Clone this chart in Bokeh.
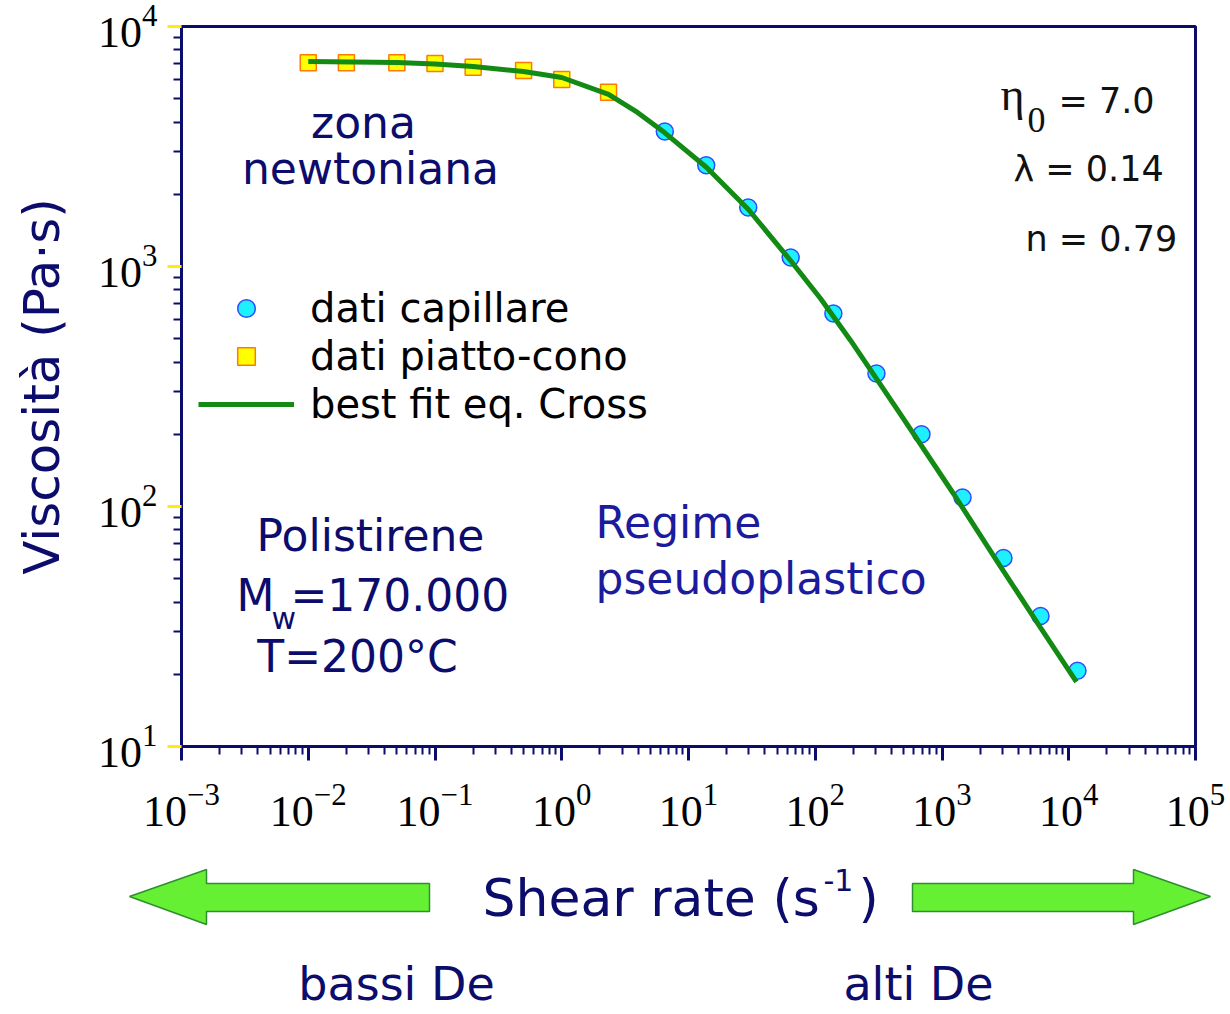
from bokeh.plotting import figure
from bokeh.layouts import column
from bokeh.models import (Range1d, FixedTicker, Label, Legend, LegendItem,
                          ColumnDataSource)
from bokeh.embed import file_html
from bokeh.resources import INLINE

# ---------------- data ----------------
shear_capillare = [6.5, 13.8, 29.6, 64, 139, 304, 689, 1452, 3055, 5990, 11720]
visc_capillare = [3650, 2640, 1760, 1090, 637, 358, 200, 109, 61, 35, 20.7]

shear_piatto = [0.01, 0.02, 0.05, 0.1, 0.2, 0.5, 1.0, 2.34]
visc_piatto = [7060, 7060, 7060, 7010, 6760, 6560, 6010, 5320]

shear_fit = [0.01, 0.05, 0.1, 0.2, 0.5, 1, 2.34, 3.96, 6.47, 13.9, 29.7, 63.8,
             110, 190, 471, 1233, 2897, 5985, 11500]
visc_fit = [7140, 7080, 6980, 6810, 6490, 6130, 5210, 4385, 3615, 2585, 1728,
            1059, 736, 492, 242, 113, 56.2, 31.3, 18.6]

x_major = [1e-3, 1e-2, 1e-1, 1e0, 1e1, 1e2, 1e3, 1e4, 1e5]
y_major = [1e1, 1e2, 1e3, 1e4]

legend_labels = ["dati capillare", "dati piatto-cono", "best fit eq. Cross"]

# ---------------- geometry helpers ----------------
W, H = 1230, 1014
H1 = 850                      # height of the chart figure
FL, FR, FT, FB = 181, 1195, 26, 746
XLO, XHI, YLO, YHI = -3, 5, 1, 4
BASE_SHIFT = 0.34             # baseline correction (fraction of font size)


def dx(px):
    return 10 ** (XLO + (px - FL) / (FR - FL) * (XHI - XLO))


def dy(py):
    return 10 ** (YHI - (py - FT) / (FB - FT) * (YHI - YLO))


NAVY = "#0c0c6c"
SANS = "DejaVu Sans"

p = figure(width=W, height=H1, x_axis_type="log", y_axis_type="log",
           x_range=Range1d(1e-3, 1e5), y_range=Range1d(10, 1e4),
           output_backend="svg", toolbar_location=None,
           min_border_left=FL, min_border_right=W - FR,
           min_border_top=FT, min_border_bottom=H1 - FB,
           background_fill_color="white", border_fill_color="white")
p.grid.visible = False
p.outline_line_color = NAVY
p.outline_line_width = 3

x_minor = [m * 10 ** k for k in range(-3, 5) for m in range(2, 10)]
y_minor = [m * 10 ** k for k in range(1, 4) for m in range(2, 10)]
p.xaxis.ticker = FixedTicker(ticks=x_major, minor_ticks=x_minor)
p.yaxis.ticker = FixedTicker(ticks=y_major, minor_ticks=y_minor)

for ax in (p.xaxis[0], p.yaxis[0]):
    ax.axis_line_color = NAVY
    ax.axis_line_width = 3
    ax.major_tick_in = 0
    ax.minor_tick_in = 0
    ax.major_tick_out = 14
    ax.minor_tick_out = 8
    ax.major_tick_line_width = 3
    ax.minor_tick_line_width = 2
    ax.minor_tick_line_color = NAVY
    ax.major_label_text_font = "Liberation Serif"
    ax.major_label_text_font_size = "44px"
    ax.major_label_text_color = "black"

p.xaxis.major_tick_line_color = NAVY
p.yaxis.major_tick_line_color = "#ffee00"
p.xaxis.major_label_standoff = 24
p.yaxis.major_label_standoff = 10

p.yaxis.axis_label = "Viscosità (Pa·s)"
p.yaxis.axis_label_text_font = SANS
p.yaxis.axis_label_text_font_size = "50px"
p.yaxis.axis_label_text_font_style = "normal"
p.yaxis.axis_label_text_color = NAVY
p.yaxis.axis_label_standoff = 24

# ---------------- data glyphs ----------------
src_c = ColumnDataSource(dict(x=shear_capillare, y=visc_capillare))
src_p = ColumnDataSource(dict(x=shear_piatto, y=visc_piatto))
src_f = ColumnDataSource(dict(x=shear_fit, y=visc_fit))

rc = p.scatter("x", "y", source=src_c, marker="circle", size=17,
               fill_color="#1ff0ff", line_color="#2b4cff", line_width=1.5)
rs = p.scatter("x", "y", source=src_p, marker="square", size=16,
               fill_color="#ffff00", line_color="#ff7a00", line_width=1.5)
rl = p.line("x", "y", source=src_f, line_color="#138a13", line_width=5)

legend = Legend(items=[LegendItem(label=legend_labels[0], renderers=[rc]),
                       LegendItem(label=legend_labels[1], renderers=[rs]),
                       LegendItem(label=legend_labels[2], renderers=[rl])],
                location=(17, 319), glyph_width=96, glyph_height=44,
                label_standoff=16, spacing=2, padding=0, margin=0,
                label_text_font=SANS, label_text_font_size="40px",
                label_text_color="black", border_line_alpha=0,
                background_fill_alpha=0)
p.add_layout(legend)

# ---------------- text annotations inside the chart ----------------
texts = [
    ("zona", 363, 137, "center", SANS, 44, NAVY),
    ("newtoniana", 370, 183, "center", SANS, 44, NAVY),
    ("Polistirene", 370, 550, "center", SANS, 44, NAVY),
    ("M", 236, 610, "left", SANS, 44, NAVY),
    ("w", 271, 628, "left", SANS, 30, NAVY),
    ("=170.000", 290, 610, "left", SANS, 44, NAVY),
    ("T=200°C", 357, 671, "center", SANS, 44, NAVY),
    ("Regime", 595, 537, "left", SANS, 44, "#1b1b9e"),
    ("pseudoplastico", 595, 593, "left", SANS, 44, "#1b1b9e"),
    ("η", 1000, 110, "left", "Liberation Serif", 46, "#111111"),
    ("0", 1027, 132, "left", "Liberation Serif", 36, "#111111"),
    ("= 7.0", 1058, 112, "left", SANS, 35, "#111111"),
    ("λ = 0.14", 1013, 180, "left", SANS, 35, "#111111"),
    ("n = 0.79", 1025, 250, "left", SANS, 35, "#111111"),
]
for t, px, py, al, fnt, fs, col in texts:
    p.add_layout(Label(x=dx(px), y=dy(py - BASE_SHIFT * fs), text=t,
                       text_align=al, text_baseline="alphabetic",
                       text_font=fnt, text_font_size=f"{fs}px",
                       text_color=col))

# ---------------- strip below: axis title, arrows, De labels ----------------
q = figure(width=W, height=H - H1, x_range=Range1d(0, W),
           y_range=Range1d(H, H1), output_backend="svg",
           toolbar_location=None, min_border=0,
           x_axis_location=None, y_axis_location=None,
           background_fill_color="white", border_fill_color="white")
q.grid.visible = False
q.outline_line_color = None
# keep the strip's frame at full width (do not align it with the chart frame)
for fig in (p, q):
    try:
        fig.frame_align = False
    except Exception:
        pass

left_arrow = [(129, 896), (206, 869), (206, 883), (429, 883), (429, 911),
              (206, 911), (206, 924)]
right_arrow = [(1210, 896), (1133, 869), (1133, 883), (912, 883), (912, 911),
               (1133, 911), (1133, 924)]
q.patches(xs=[[a for a, b in s] for s in (left_arrow, right_arrow)],
          ys=[[b for a, b in s] for s in (left_arrow, right_arrow)],
          fill_color="#66f033", line_color="#2f8f2f", line_width=1.5)

strip_texts = [
    ("Shear rate (s", 482, 915, "left", 52),
    ("-1", 823, 890, "left", 30),
    (")", 858, 915, "left", 52),
    ("bassi De", 396, 999, "center", 46),
    ("alti De", 918, 999, "center", 46),
]
for t, px, py, al, fs in strip_texts:
    q.add_layout(Label(x=px, y=py - BASE_SHIFT * fs, text=t, text_align=al,
                       text_baseline="alphabetic", text_font=SANS,
                       text_font_size=f"{fs}px", text_color=NAVY))

layout = column(p, q, spacing=0)
open("out.html", "w").write(file_html(layout, INLINE))
